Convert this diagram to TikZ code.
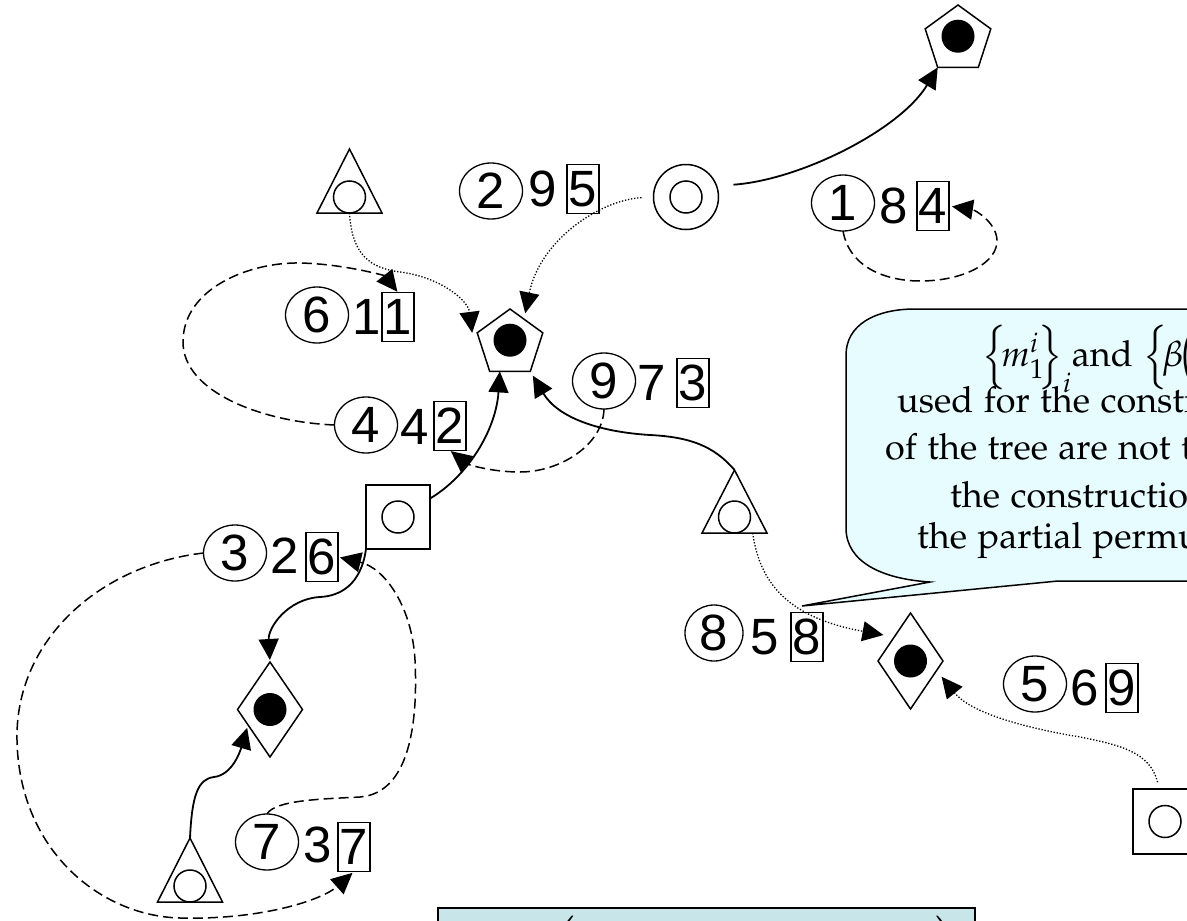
\documentclass[tikz,border=0pt]{standalone}
\usepackage{mathpazo}
\usepackage[no-math]{fontspec}
\setmainfont{Liberation Sans}
\usetikzlibrary{shapes.geometric,arrows.meta}
\definecolor{notefill}{RGB}{230,252,255}
\definecolor{panelfill}{RGB}{200,230,234}
\newcommand{\notefont}{\fontencoding{OT1}\fontfamily{pplx}\fontsize{36}{43}\selectfont}

\tikzset{
  outline/.style={draw, line width=1.5pt, inner sep=0pt, outer sep=0pt},
  dotfill/.style={path picture={\fill (path picture bounding box.center) circle (16.5pt);}},
  ringfill/.style={path picture={\draw[line width=1.5pt] (path picture bounding box.center) circle (16pt);}},
  pent/.style={outline, regular polygon, regular polygon sides=5, minimum size=69pt, dotfill},
  dmd/.style={outline, diamond, minimum width=65pt, minimum height=96pt, dotfill},
  sqr/.style={outline, rectangle, minimum width=64pt, minimum height=64pt, ringfill},
  ring/.style={outline, circle, minimum size=65pt, ringfill},
  triframe/.style={inner sep=0pt, outer sep=0pt, minimum width=65pt, minimum height=64pt},
  num/.style={font=\fontsize{51}{51}\selectfont, inner sep=0pt, outer sep=0pt},
  oval/.style={num, draw, ellipse, line width=1.3pt, minimum width=63pt, minimum height=56pt},
  numbox/.style={num, draw, rectangle, line width=1.3pt, minimum width=32pt, minimum height=49pt},
  tip/.style={-{Triangle[length=21pt,width=20pt]}},
  solidarr/.style={tip, line width=1.8pt},
  dasharr/.style={tip, line width=1.5pt, dash pattern=on 10pt off 5pt},
  dotarr/.style={tip, line width=1.3pt, dash pattern=on 1.3pt off 1.8pt},
  notetext/.style={font=\notefont, inner sep=0pt, anchor=base west},
}

\begin{document}
\begin{tikzpicture}[x=1pt,y=-1pt]
\useasboundingbox (0,0) rectangle (1187,921);
\clip (0,0) rectangle (1187,921);
\fill[white] (0,0) rectangle (1187,921);

% speech bubble with its pointer
\filldraw[fill=notefill, line width=1.5pt, line join=miter]
  (846,355) -- (846,528) .. controls (846,562) and (882,579) .. (930,582)
  -- (802,606) -- (1058,581) -- (1200,581) -- (1200,309) -- (915,309)
  .. controls (875,309) and (846,325) .. (846,355) -- cycle;
\node[notetext] (n1) at (982,366) {$\Big\{\!m_1^i\!\Big\}_i$and $\Big\{\!\beta\!\Big($};
\node[notetext] (n2) at (897,412) {used for the construction};
\node[notetext] (n3) at (885,459) {of the tree are not to};
\node[notetext] (n4) at (950,507) {the construction};
\node[notetext] (n5) at (917,548) {the partial permutation};

% formula panel at the bottom
\filldraw[fill=panelfill, line width=1.5pt] (438,908) rectangle (975,950);
\node[inner sep=0pt, anchor=north] (lp) at (561,914) {\notefont$\Bigg($};
\node[inner sep=0pt, anchor=north] (rp) at (950,914) {\notefont$\Bigg)$};

% tree vertices
\node[pent] (P1) at (958,39.5) {};
\node[pent] (P2) at (510,343.5) {};
\node[ring] (C1) at (686,197) {};
\node[sqr] (S1) at (398,517) {};
\node[sqr, minimum height=65pt] (S2) at (1165,821.5) {};
\node[dmd, minimum height=95pt] (D1) at (270,709.5) {};
\node[dmd] (D2) at (910.5,661) {};
\node[triframe] (TA) at (349.5,181) {};
\node[triframe] (TB) at (190,870) {};
\node[triframe, minimum height=63pt] (TC) at (734.5,501.5) {};
\foreach \t in {TA,TB,TC} {
  \draw[line width=1.5pt, line join=miter] (\t.south west) -- (\t.south east) -- (\t.north) -- cycle;
  \draw[line width=1.5pt] ([yshift=16pt]\t.south) circle (16pt);
}

% index labels: circled number, plain number, boxed number
\node[oval] (e2) at (491,191) {2};
\node[num] (m2) at (543,189) {9};
\node[numbox] (b2) at (583,189) {5};

\node[oval] (e1) at (843,203) {1};
\node[num] (m1) at (894,206) {8};
\node[numbox] (b1) at (933,206) {4};

\node[oval] (e6) at (317,315) {6};
\node[num] (m6) at (367,317) {1};
\node[numbox] (b6) at (398,317) {1};

\node[oval] (e4) at (366,425) {4};
\node[num] (m4) at (415,427) {4};
\node[numbox] (b4) at (450,426) {2};

\node[oval] (e9) at (604,381) {9};
\node[num] (m9) at (652,383) {7};
\node[numbox] (b9) at (693,383) {3};

\node[oval] (e3) at (235,553) {3};
\node[num] (m3) at (285,556) {2};
\node[numbox] (b3) at (322,557) {6};

\node[oval] (e7) at (267,842) {7};
\node[num] (m7) at (318,845) {3};
\node[numbox] (b7) at (354,847) {7};

\node[oval, minimum width=58pt] (e8) at (714,633) {8};
\node[num] (m8) at (765,637) {5};
\node[numbox] (b8) at (807,637) {8};

\node[oval] (e5) at (1035,684) {5};
\node[num] (m5) at (1085,688) {6};
\node[numbox] (b5) at (1122,688) {9};

% tree edges (solid)
\draw[solidarr, shorten <=17pt] (C1.20) .. controls (800,180) and (900,130) .. (P1.corner 3);
\draw[solidarr] (S1.30) .. controls (468,476) and (496,430) .. (P2.250);
\draw[solidarr, shorten >=2pt] (S1.south west) .. controls (361,585) and (340,596) .. (320,597)
  .. controls (287,599) and (268,628) .. (D1.north);
\draw[solidarr, shorten >=3pt] (TB.north) .. controls (192,795) and (198,779) .. (214,777)
  .. controls (232,775) and (240,752) .. (D1.215);
\draw[solidarr, shorten >=5pt] (TC.north) .. controls (714,446) and (690,437) .. (650,435)
  .. controls (600,432) and (558,418) .. (P2.corner 4);

% dotted edges
\draw[dotarr, shorten <=12pt, shorten >=6pt] (C1.west) .. controls (600,200) and (540,240) .. (P2.60);
\draw[dotarr] (TA.south) .. controls (352,255) and (370,268) .. (400,272)
  .. controls (440,277) and (468,300) .. ([xshift=-5pt]P2.corner 2);
\draw[dotarr, shorten >=11pt] (TC.-60) .. controls (760,585) and (790,618) .. (D2.north west);
\draw[dotarr, shorten <=7pt, shorten >=8pt] (S2.100) .. controls (1150,752) and (1120,745) .. (1080,737)
  .. controls (1020,727) and (970,712) .. (D2.-20);

% dashed index links
\draw[dasharr, shorten >=3pt] (e1.south) .. controls (850,270) and (890,281) .. (920,281)
  .. controls (965,281) and (998,262) .. (997,240) .. controls (996,222) and (975,210) .. (b1.east);
\draw[dasharr, shorten >=1pt] (e4.west) .. controls (262,422) and (183,392) .. (183,342)
  .. controls (183,288) and (250,262) .. (300,263) .. controls (345,264) and (385,276) .. (b6.north);
\draw[dasharr, shorten >=1pt] (e9.south) .. controls (603,445) and (560,472) .. (520,472)
  .. controls (490,472) and (467,464) .. (b4.south);
\draw[dasharr, shorten >=2pt] (e3.west) .. controls (100,565) and (15,640) .. (17,740)
  .. controls (19,850) and (100,916) .. (180,918) .. controls (262,920) and (322,900) .. (b7.south);
\draw[dasharr, shorten >=2pt] (e7.north) .. controls (275,800) and (322,799) .. (360,797)
  .. controls (410,793) and (418,722) .. (415,660) .. controls (412,607) and (385,568) .. (b3.east);
\end{tikzpicture}
\end{document}
